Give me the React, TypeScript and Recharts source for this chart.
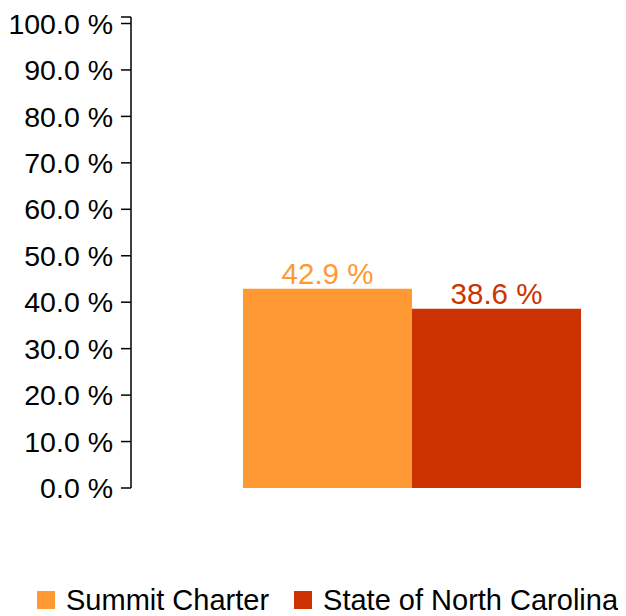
import { BarChart, Bar, XAxis, YAxis, Legend, LabelList } from 'recharts'

const categories = ['Percent']
const summitValues = [42.9]
const stateValues = [38.6]
const yTicks = [0, 10, 20, 30, 40, 50, 60, 70, 80, 90, 100, 101.4]

const series = [
  { key: 'summit', name: 'Summit Charter', color: '#FF9933', values: summitValues },
  { key: 'state', name: 'State of North Carolina', color: '#CC3300', values: stateValues },
]

const data = categories.map((c, i) => ({
  category: c,
  summit: summitValues[i],
  state: stateValues[i],
}))

const font = '"Liberation Sans", Arial, sans-serif'

function fmtTick(v: number) {
  if (v > 100) return ''
  return `${v.toFixed(1)} %`
}

function LegendBox() {
  return (
    <div style={{ display: 'flex', alignItems: 'center', paddingLeft: 29, fontFamily: font, fontSize: 29, color: '#000', height: 30, whiteSpace: 'nowrap' }}>
      {series.map((s, i) => (
        <div key={s.key} style={{ display: 'flex', alignItems: 'center', marginRight: i === 0 ? 25 : 0 }}>
          <span style={{ width: 18, height: 18, background: s.color, display: 'inline-block', marginRight: 11 }} />
          <span>{s.name}</span>
        </div>
      ))}
    </div>
  )
}

export default function App() {
  return (
    <div style={{ fontFamily: font }}>
      <BarChart
        width={618}
        height={608}
        data={data}
        margin={{ top: 9, right: 0, bottom: 1, left: 0 }}
        barCategoryGap={45}
        barGap={0}
      >
        <XAxis dataKey="category" height={97} tick={false} axisLine={false} tickLine={false} padding={{ left: 67, right: 0 }} />
        <YAxis
          width={123}
          domain={[0, 101.4]}
          ticks={yTicks}
          interval={0}
          tickFormatter={fmtTick}
          tickSize={10}
          tickMargin={8}
          axisLine={{ stroke: '#000', strokeWidth: 1.5 }}
          tickLine={{ stroke: '#000', strokeWidth: 1.5 }}
          tick={{ fill: '#000', fontSize: 28.5, fontFamily: font }}
        />
        <Legend verticalAlign="bottom" height={30} content={() => <LegendBox />} />
        {series.map(s => (
          <Bar key={s.key} dataKey={s.key} name={s.name} fill={s.color} isAnimationActive={false}>
            <LabelList
              dataKey={s.key}
              position="top"
              offset={5}
              formatter={(v: any) => `${Number(v).toFixed(1)} %`}
              style={{ fill: s.color, fontSize: 29.5, fontFamily: font }}
            />
          </Bar>
        ))}
      </BarChart>
    </div>
  )
}
